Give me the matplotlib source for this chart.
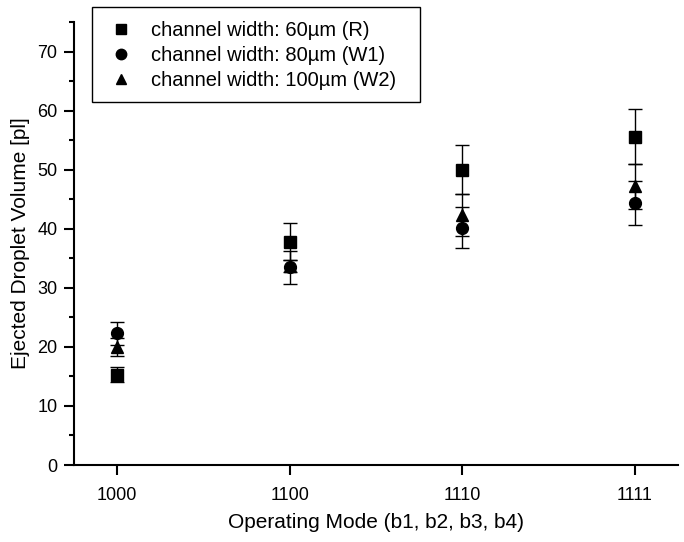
import matplotlib
matplotlib.use("Agg")
import matplotlib.pyplot as plt
from matplotlib.ticker import MultipleLocator
from matplotlib.lines import Line2D
from matplotlib.patches import Rectangle

plt.rcParams['font.family'] = ['Liberation Sans', 'DejaVu Sans']

modes = ["1000", "1100", "1110", "1111"]
labels = ["channel width: 60\u00b5m (R)", "channel width: 80\u00b5m (W1)", "channel width: 100\u00b5m (W2)"]
vol_R = [15.3, 37.8, 50.0, 55.6]
err_R = [1.3, 3.1, 4.2, 4.6]
vol_W1 = [22.3, 33.5, 40.2, 44.4]
err_W1 = [1.9, 2.8, 3.4, 3.7]
vol_W2 = [20.0, 33.7, 42.3, 47.2]
err_W2 = [1.5, 1.0, 3.6, 3.8]

series = [(vol_R, err_R, 's'), (vol_W1, err_W1, 'o'), (vol_W2, err_W2, '^')]

fig = plt.figure(figsize=(6.84, 5.42), dpi=100)
ax = fig.add_axes([74/684, 77/542, (678-74)/684, (465-22)/542])

x = list(range(len(modes)))
handles = []
for (v, e, m), lab in zip(series, labels):
    ms = 8.5 if m == 'o' else 8
    ax.errorbar(x, v, yerr=e, fmt=m, color='black', markersize=ms,
                ecolor='black', elinewidth=1.0, capsize=5, capthick=1.0)
    handles.append(Line2D([], [], linestyle='none', marker=m, color='black', markersize=ms - 1))

ax.set_xlim(-0.25, 3.25)
ax.set_ylim(0, 75)
ax.set_xticks(x)
ax.set_xticklabels(modes)
ax.yaxis.set_major_locator(MultipleLocator(10))
ax.yaxis.set_minor_locator(MultipleLocator(5))
ax.spines['top'].set_visible(False)
ax.spines['right'].set_visible(False)
ax.spines['left'].set_linewidth(1.5)
ax.spines['bottom'].set_linewidth(1.5)
ax.tick_params(axis='both', which='major', direction='out', length=7, width=1.5, labelsize=13)
ax.tick_params(axis='y', which='major', pad=5)
ax.tick_params(axis='x', which='major', pad=9)
ax.tick_params(axis='y', which='minor', direction='out', length=3.5, width=1.5)

ax.set_xlabel("Operating Mode (b1, b2, b3, b4)", fontsize=15, labelpad=6)
ax.set_ylabel("Ejected Droplet Volume [pl]", fontsize=15, labelpad=5)

leg = fig.legend(handles=handles, labels=labels, loc='upper left',
                 bbox_to_anchor=(92/684, 1 - 7/542), fontsize=14.5, frameon=False,
                 borderpad=0.2, handletextpad=0.75, labelspacing=0.3, handlelength=1.5)

fig.patches.append(Rectangle((92/684, 1 - 102/542), (420-92)/684, (102-7)/542,
                             transform=fig.transFigure, fill=False, edgecolor='black',
                             linewidth=1.0))

fig.savefig("out.png", dpi=100)
